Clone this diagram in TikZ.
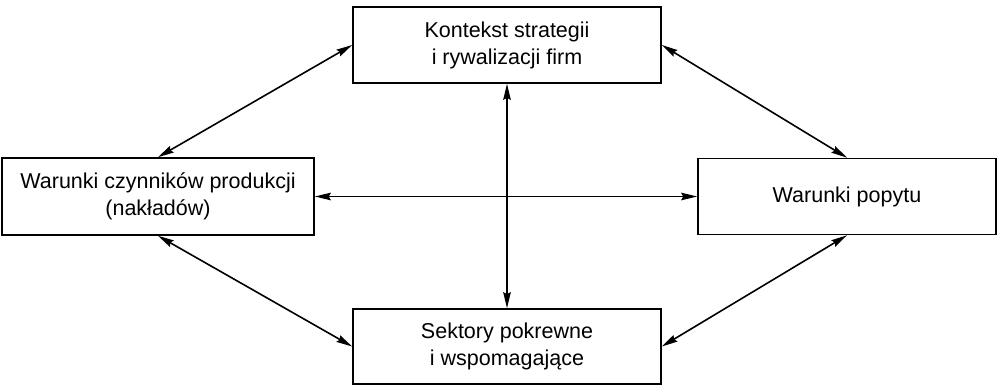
\documentclass[tikz,border=0pt]{standalone}
\usepackage{fontspec}
\setmainfont{Liberation Sans}
\usetikzlibrary{arrows.meta}
\begin{document}
\begin{tikzpicture}[x=1bp,y=1bp,
  box/.style={draw, line width=1.6bp, align=center, inner sep=0pt,
    font=\fontsize{21.5bp}{27bp}\selectfont},
  link/.style={line width=1.6bp, {Stealth[length=16bp,width=7.5bp,inset=2bp]}-{Stealth[length=16bp,width=7.5bp,inset=2bp]}}]
\useasboundingbox (0,0) rectangle (999,385);
\node[box, minimum width=308bp, minimum height=76bp] (top) at (507,340) {Kontekst strategii\\i rywalizacji firm};
\node[box, minimum width=312bp, minimum height=77bp] (left) at (158,188.5) {Warunki czynników produkcji\\(nakładów)};
\node[box, minimum width=298bp, minimum height=76bp] (right) at (847,188.5) {Warunki popytu};
\node[box, minimum width=308bp, minimum height=75bp] (bottom) at (507,38.5) {Sektory pokrewne\\i wspomagające};
\draw[link] (left.north) -- (top.west);
\draw[link] (top.east) -- (right.north);
\draw[link] (left.south) -- (bottom.west);
\draw[link] (right.south) -- (bottom.east);
\draw[link] (left.east) -- (right.west);
\draw[link] (top.south) -- (bottom.north);
\end{tikzpicture}
\end{document}
